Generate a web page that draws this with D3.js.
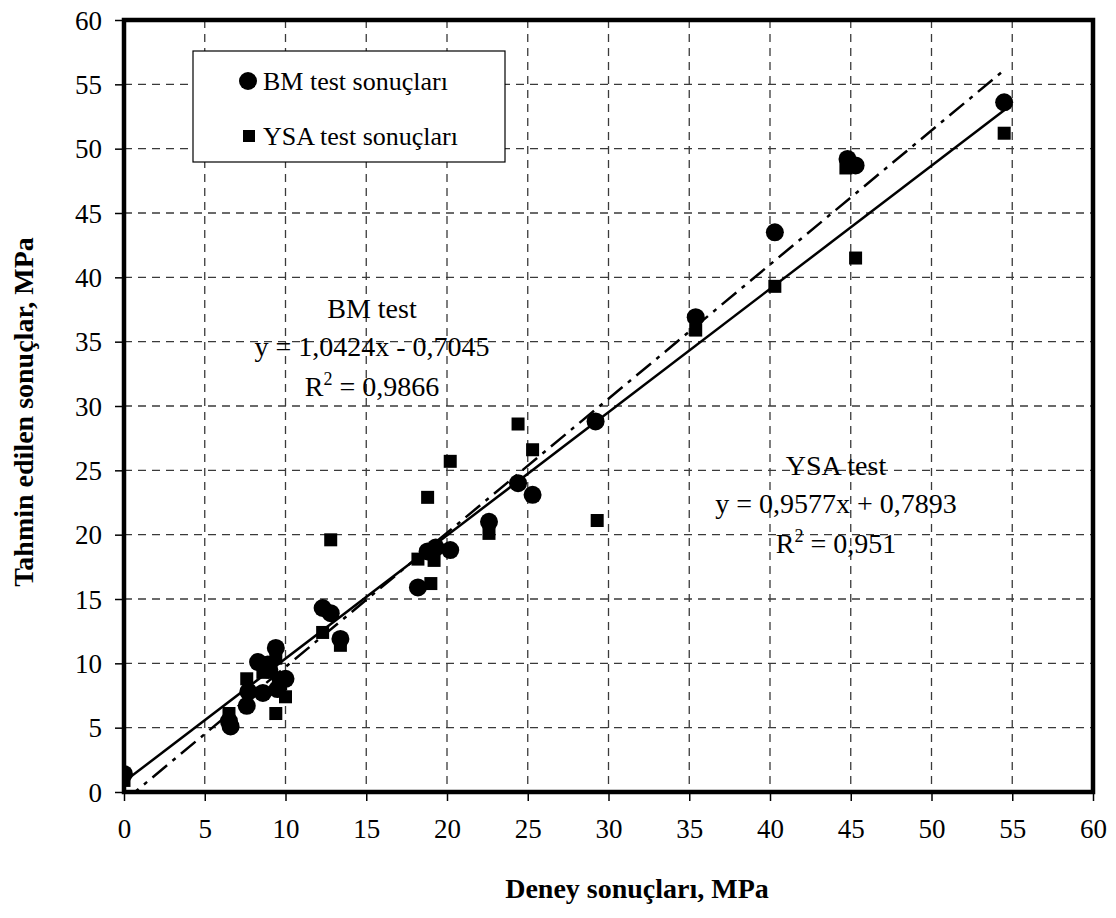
<!DOCTYPE html>
<html>
<head>
<meta charset="utf-8">
<script src="https://cdn.jsdelivr.net/npm/d3@7"></script>
<style>
  body { margin: 0; background: #fff; }
  text { font-family: "Liberation Serif", "Times New Roman", serif; fill: #000; }
</style>
</head>
<body>
<div id="chart"></div>
<script>
// BM (circles) test results
var bmX = [0, 6.5, 6.6, 7.6, 7.7, 8.3, 8.6, 8.9, 9.0, 9.4, 9.5, 9.7, 10.0, 12.3, 12.8, 13.4, 18.2, 18.8, 19.3, 20.2, 22.6, 24.4, 25.3, 29.2, 35.4, 40.3, 44.8, 45.3, 54.5];
var bmY = [1.4, 5.5, 5.1, 6.7, 7.8, 10.1, 7.7, 9.9, 9.5, 11.2, 8.0, 8.7, 8.8, 14.3, 13.9, 11.9, 15.9, 18.7, 19.0, 18.8, 21.0, 24.0, 23.1, 28.8, 36.9, 43.5, 49.2, 48.7, 53.6];

// YSA (squares) test results
var ysaX = [0, 6.5, 7.6, 8.6, 9.0, 9.4, 9.4, 9.7, 10.0, 12.3, 12.8, 13.4, 18.2, 18.8, 19.0, 19.2, 20.2, 22.6, 24.4, 25.3, 29.3, 35.4, 40.3, 44.7, 45.3, 54.5];
var ysaY = [0.9, 6.1, 8.8, 9.3, 9.9, 10.4, 6.1, 8.4, 7.4, 12.4, 19.6, 11.4, 18.1, 22.9, 16.2, 18.0, 25.7, 20.1, 28.6, 26.6, 21.1, 35.9, 39.3, 48.5, 41.5, 51.2];

// trendlines: [slope, intercept]
var bmFit = [1.0424, -0.7045];
var ysaFit = [0.9577, 0.7893];

var ticks = [0, 5, 10, 15, 20, 25, 30, 35, 40, 45, 50, 55, 60];
var gridTicks = [5, 10, 15, 20, 25, 30, 35, 40, 45, 50, 55];

var W = 1116, H = 918;
var pLeft = 124, pRight = 1093, pTop = 20, pBottom = 792;

var svg = d3.select("#chart").append("svg")
    .attr("width", W)
    .attr("height", H);

var x = d3.scaleLinear().domain([0, 60]).range([pLeft, pRight]);
var y = d3.scaleLinear().domain([0, 60]).range([pBottom, pTop]);

svg.append("clipPath").attr("id", "plotclip")
  .append("rect")
    .attr("x", pLeft).attr("y", pTop)
    .attr("width", pRight - pLeft).attr("height", pBottom - pTop);

// grid
var grid = svg.append("g").attr("stroke", "#3a3a3a").attr("stroke-width", 1.3).attr("stroke-dasharray", "8,6");
grid.selectAll(".vg").data(gridTicks).enter().append("line")
    .attr("x1", function (d) { return x(d); }).attr("x2", function (d) { return x(d); })
    .attr("y1", pTop).attr("y2", pBottom);
grid.selectAll(".hg").data(gridTicks).enter().append("line")
    .attr("y1", function (d) { return y(d); }).attr("y2", function (d) { return y(d); })
    .attr("x1", pLeft).attr("x2", pRight);

// axes
var xAxis = svg.append("g")
    .attr("transform", "translate(0," + pBottom + ")")
    .call(d3.axisBottom(x).tickValues(ticks).tickSize(9).tickPadding(18).tickFormat(d3.format("d")));
var yAxis = svg.append("g")
    .attr("transform", "translate(" + pLeft + ",0)")
    .call(d3.axisLeft(y).tickValues(ticks).tickSize(9).tickPadding(13).tickFormat(d3.format("d")));
[xAxis, yAxis].forEach(function (a) {
  a.select(".domain").remove();
  a.selectAll(".tick line").attr("stroke", "#000").attr("stroke-width", 1.5);
  a.selectAll(".tick text").style("font-family", "Liberation Serif").style("font-size", "27px");
});
yAxis.selectAll(".tick text").attr("dy", "0.34em");

// points
var bm = bmX.map(function (d, i) { return [d, bmY[i]]; });
var ysa = ysaX.map(function (d, i) { return [d, ysaY[i]]; });

var pts = svg.append("g").attr("clip-path", "url(#plotclip)");
pts.selectAll(".sq").data(ysa).enter().append("rect")
    .attr("x", function (d) { return x(d[0]) - 6.5; })
    .attr("y", function (d) { return y(d[1]) - 6.5; })
    .attr("width", 13).attr("height", 13)
    .attr("fill", "#000");
pts.selectAll(".ci").data(bm).enter().append("circle")
    .attr("cx", function (d) { return x(d[0]); })
    .attr("cy", function (d) { return y(d[1]); })
    .attr("r", 9)
    .attr("fill", "#000");

// trendlines
function fitLine(fit, xs) {
  var x0 = d3.min(xs), x1 = d3.max(xs);
  return [[x0, fit[0] * x0 + fit[1]], [x1, fit[0] * x1 + fit[1]]];
}
var line = d3.line().x(function (d) { return x(d[0]); }).y(function (d) { return y(d[1]); });
var lines = svg.append("g").attr("clip-path", "url(#plotclip)");
lines.append("path").datum(fitLine(ysaFit, ysaX))
    .attr("d", line).attr("fill", "none").attr("stroke", "#000").attr("stroke-width", 2.5);
lines.append("path").datum(fitLine(bmFit, bmX))
    .attr("d", line).attr("fill", "none").attr("stroke", "#000").attr("stroke-width", 2.5)
    .attr("stroke-dasharray", "19,7,4,7");

// frame
svg.append("rect")
    .attr("x", pLeft).attr("y", pTop)
    .attr("width", pRight - pLeft).attr("height", pBottom - pTop)
    .attr("fill", "none").attr("stroke", "#000").attr("stroke-width", 4.5);

// legend
var lg = svg.append("g");
lg.append("rect").attr("x", 193).attr("y", 51).attr("width", 312).attr("height", 111)
    .attr("fill", "#fff").attr("stroke", "#000").attr("stroke-width", 1.2);
lg.append("circle").attr("cx", 248).attr("cy", 81).attr("r", 9).attr("fill", "#000");
lg.append("rect").attr("x", 243).attr("y", 130).attr("width", 12).attr("height", 12).attr("fill", "#000");
lg.append("text").attr("x", 263).attr("y", 90).style("font-size", "26px").text("BM test sonuçları");
lg.append("text").attr("x", 263).attr("y", 145).style("font-size", "26px").text("YSA test sonuçları");

// equation labels
function fmt(v) { return String(Math.abs(v)).replace(".", ","); }
function eqLabel(cx, y0, title, fit, r2) {
  var g = svg.append("g").style("font-size", "28px").attr("text-anchor", "middle");
  g.append("text").attr("x", cx).attr("y", y0).text(title);
  g.append("text").attr("x", cx).attr("y", y0 + 38)
    .text("y = " + fmt(fit[0]) + "x " + (fit[1] < 0 ? "- " : "+ ") + fmt(fit[1]));
  var t = g.append("text").attr("x", cx).attr("y", y0 + 78);
  t.append("tspan").text("R");
  t.append("tspan").attr("dy", -11).style("font-size", "18px").text("2");
  t.append("tspan").attr("dy", 11).text(" = " + r2);
}
eqLabel(372, 318, "BM test", bmFit, "0,9866");
eqLabel(836, 475, "YSA test", ysaFit, "0,951");

// axis titles
svg.append("text")
    .attr("x", 637).attr("y", 898)
    .attr("text-anchor", "middle")
    .style("font-size", "28px").style("font-weight", "bold")
    .text("Deney sonuçları, MPa");
svg.append("text")
    .attr("transform", "translate(33,412) rotate(-90)")
    .attr("text-anchor", "middle")
    .style("font-size", "28px").style("font-weight", "bold")
    .text("Tahmin edilen sonuçlar, MPa");
</script>
</body>
</html>
